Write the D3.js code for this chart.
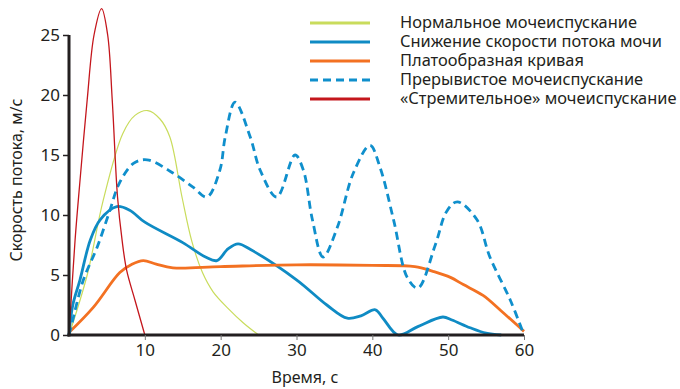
<!DOCTYPE html>
<html>
<head>
<meta charset="utf-8">
<script src="https://cdn.jsdelivr.net/npm/d3@7"></script>
<style>
  body { margin: 0; background: #fff; }
  text { font-family: "Noto Sans", "Open Sans", sans-serif; fill: #231f20; }
</style>
</head>
<body>
<div id="chart"></div>
<script>
// Ticks
var xTicks = [10, 20, 30, 40, 50, 60];
var yTicks = [0, 5, 10, 15, 20, 25];

// Series, [time s, flow]
var normal = [[0,0],[2.4,5],[4.5,11.2],[7.1,16.8],[8.7,18.3],[10.4,18.7],[12,18],[13.3,16.5],[14.9,11.5],[16.2,7.8],[17.6,5.2],[19,3.6],[21,2.2],[23,1],[25,0]];
var decreased = [[0,0],[0.5,2.5],[1.45,4.6],[2.8,7.9],[4.1,9.6],[6.3,10.7],[8,10.4],[10,9.4],[15,7.7],[18,6.5],[19.5,6.2],[21,7.2],[22.3,7.6],[24,7.1],[30,4.6],[34,2.5],[36.7,1.4],[38.5,1.6],[40.4,2.1],[41.4,1.4],[43.4,0],[46,0.7],[49.3,1.5],[50.5,1.25],[52.9,0.6],[55,0.15],[57,0]];
var plateau = [[0,0.2],[3.2,2.3],[6.7,5.2],[8.3,5.9],[9.8,6.2],[11.5,5.9],[13.7,5.6],[20,5.7],[30,5.85],[40,5.8],[45.6,5.7],[48,5.3],[50.3,4.8],[52,4.2],[54.6,3.3],[57,2],[60,0.3]];
var intermittent = [[0,0],[0.4,1],[1.9,4.6],[3.7,7.3],[5.4,10.4],[6.6,12.6],[8.5,14.3],[10.3,14.6],[13.7,13.5],[16.4,12.3],[18.2,11.5],[19.9,13.75],[20.6,16.5],[21.9,19.4],[23.9,16.5],[25.2,13.75],[27.4,11.5],[29.8,15],[30.9,13.75],[32.1,9.6],[33.5,6.5],[35.4,9],[37.5,13.5],[39.7,15.8],[41,14],[42.8,9.6],[44.6,4.8],[46,3.9],[48.3,7.5],[49.8,10.3],[51.2,11.1],[53.8,9.6],[55.5,6.5],[58.2,2.9],[60,0]];
var rapid = [[0,0],[0.8,7.9],[1.4,12.5],[2.4,19.6],[3.3,25],[4.3,27.2],[5.1,25],[5.7,19.6],[6.4,11.5],[7,7.9],[7.6,5.4],[8.7,2.9],[10,0]];

var seriesNames = [
  "Нормальное мочеиспускание",
  "Снижение скорости потока мочи",
  "Платообразная кривая",
  "Прерывистое мочеиспускание",
  "«Стремительное» мочеиспускание"
];

var W = 680, H = 389;

var svg = d3.select("#chart").append("svg")
    .attr("width", W)
    .attr("height", H);

var x = d3.scaleLinear().domain([0, 60]).range([69, 524]);
var y = d3.scaleLinear().domain([0, 25]).range([335, 35]);

var styles = [
  { data: normal,       color: "#c9dc5c", width: 1.2, dash: null },
  { data: decreased,    color: "#0f8bc4", width: 2.8, dash: null },
  { data: plateau,      color: "#f37122", width: 2.8, dash: null },
  { data: intermittent, color: "#0f8fcc", width: 2.8, dash: "8,5" },
  { data: rapid,        color: "#c4161c", width: 1.3, dash: null }
];

var line = d3.line()
    .x(function(d) { return x(d[0]); })
    .y(function(d) { return y(d[1]); })
    .curve(d3.curveCatmullRom.alpha(0.5));

// curves
styles.forEach(function(s) {
  svg.append("path")
      .attr("d", line(s.data))
      .attr("fill", "none")
      .attr("stroke", s.color)
      .attr("stroke-width", s.width)
      .attr("stroke-dasharray", s.dash)
      .attr("stroke-linejoin", "round");
});

// y axis
var yAxis = svg.append("g").attr("transform", "translate(" + x(0) + ",0)")
    .call(d3.axisLeft(y).tickValues(yTicks).tickSize(6).tickPadding(3));
yAxis.select(".domain").attr("stroke", "#231f20").attr("stroke-width", 3)
    .attr("d", "M0," + y(25) + "V" + (y(0) + 1.5));
yAxis.selectAll(".tick line").attr("stroke", "#231f20").attr("stroke-width", 1.5);
yAxis.selectAll(".tick text").attr("font-size", 17).attr("fill", "#231f20")
    .attr("font-family", "'Noto Sans', sans-serif");

// x axis
var xAxis = svg.append("g").attr("transform", "translate(0," + y(0) + ")")
    .call(d3.axisBottom(x).tickValues(xTicks).tickSize(5).tickPadding(4));
xAxis.select(".domain").attr("stroke", "#231f20").attr("stroke-width", 3)
    .attr("d", "M" + (x(0) - 1.5) + ",0H" + x(60));
xAxis.selectAll(".tick line").attr("stroke", "#777").attr("stroke-width", 1);
xAxis.selectAll(".tick text").attr("font-size", 17).attr("fill", "#231f20")
    .attr("font-family", "'Noto Sans', sans-serif");

// axis titles
svg.append("text")
    .attr("transform", "translate(22,180) rotate(-90)")
    .attr("text-anchor", "middle")
    .attr("font-size", 16)
    .text("Скорость потока, м/с");

svg.append("text")
    .attr("x", 305)
    .attr("y", 383)
    .attr("text-anchor", "middle")
    .attr("font-size", 16)
    .text("Время, с");

// legend
var legend = svg.append("g");
styles.forEach(function(s, i) {
  var ly = 23 + i * 19;
  legend.append("line")
      .attr("x1", 310).attr("x2", 370)
      .attr("y1", ly).attr("y2", ly)
      .attr("stroke", s.color)
      .attr("stroke-width", 3)
      .attr("stroke-dasharray", s.dash);
  legend.append("text")
      .attr("x", 400)
      .attr("y", ly + 5)
      .attr("font-size", 16.4)
      .text(seriesNames[i]);
});
</script>
</body>
</html>
